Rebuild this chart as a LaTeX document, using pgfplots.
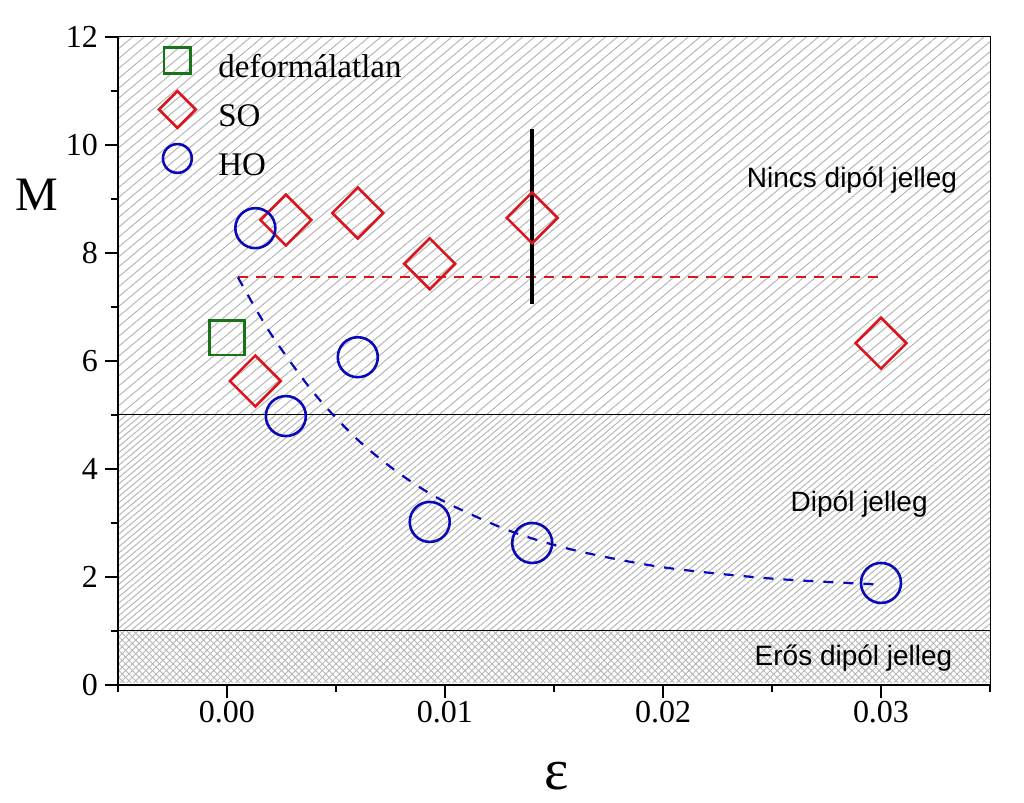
\documentclass[border=0pt]{standalone}
\usepackage{pgfplots}
\pgfplotsset{compat=1.18}
\usepackage{fontspec}
\setmainfont{Liberation Serif}
\newfontfamily\arial{Liberation Sans}
\usetikzlibrary{patterns.meta}
\definecolor{myred}{RGB}{220,20,30}
\definecolor{myblue}{RGB}{10,10,185}
\definecolor{mygreen}{RGB}{25,115,25}
\definecolor{hatch}{RGB}{182,182,182}
\pgfplotsset{limg/.style={legend image code/.code={%
    \pgfpathrectangle{\pgfpoint{-10pt}{-4.5pt}}{\pgfpoint{20pt}{16.5pt}}\pgfusepath{use as bounding box}%
    \draw[##1, mark size=#1] plot coordinates {(0pt,5pt)};}}}
\begin{document}
\begin{tikzpicture}
\begin{axis}[
  name=ax,
  scale only axis, width=436pt, height=324pt,
  xmin=-0.005, xmax=0.035, ymin=0, ymax=12,
  xtick={0,0.01,0.02,0.03},
  minor xtick={-0.005,0.005,0.015,0.025,0.035},
  ytick={0,2,4,6,8,10,12},
  minor ytick={1,3,5,7,9,11},
  scaled x ticks=false,
  xticklabel style={/pgf/number format/fixed,/pgf/number format/precision=2,/pgf/number format/fixed zerofill, yshift=2pt},
  /pgf/number format/assume math mode=true,
  tick align=outside,
  xtick pos=bottom, ytick pos=left,
  major tick length=6.5pt, minor tick length=3.5pt,
  every tick/.style={black, line width=1pt},
  tick label style={font=\fontsize{16}{16}\selectfont},
  axis line style={line width=0.5pt},
  axis on top,
  ylabel={M},
  ylabel style={rotate=-90, at={(rel axis cs:-0.093,0.756)}, anchor=center, font=\fontsize{24}{24}\selectfont},
  xlabel={ε},
  xlabel style={at={(rel axis cs:0.503,-0.14)}, anchor=center, font=\fontsize{29}{29}\selectfont},
  legend cell align=left,
  legend style={at={(rel axis cs:0.0447,0.986)}, anchor=north west, draw=none, fill=none,
    inner sep=0pt, row sep=4.25pt, column sep=10.5pt,
    font=\fontsize{16.5}{16.5}\selectfont,
    nodes={inner sep=0pt, text height=12pt, text depth=4.5pt}},
]
% background zones
\addplot[draw=none, forget plot, pattern={Lines[angle=40,distance=3.8pt,line width=0.5pt]}, pattern color=hatch]
  coordinates {(-0.005,5) (0.035,5) (0.035,12) (-0.005,12)} -- cycle;
\addplot[draw=none, forget plot, pattern={Lines[angle=40,distance=2.4pt,line width=0.5pt]}, pattern color=hatch]
  coordinates {(-0.005,1) (0.035,1) (0.035,5) (-0.005,5)} -- cycle;
\addplot[draw=none, forget plot, pattern={Lines[angle=45,distance=2.4pt,line width=0.45pt]}, pattern color=hatch]
  coordinates {(-0.005,0.05) (0.035,0.05) (0.035,1) (-0.005,1)} -- cycle;
\addplot[draw=none, forget plot, pattern={Lines[angle=-45,distance=2.4pt,line width=0.45pt]}, pattern color=hatch]
  coordinates {(-0.005,0.05) (0.035,0.05) (0.035,1) (-0.005,1)} -- cycle;
\addplot[black, line width=0.5pt, forget plot] coordinates {(-0.005,5) (0.035,5)};
\addplot[black, line width=0.5pt, forget plot] coordinates {(-0.005,1) (0.035,1)};
% zone labels
\node[font=\arial\fontsize{14}{14}\selectfont] at (axis cs:0.02867,9.35) {Nincs dipól jelleg};
\node[font=\arial\fontsize{14}{14}\selectfont] at (axis cs:0.0290,3.35) {Dipól jelleg};
\node[font=\arial\fontsize{14}{14}\selectfont] at (axis cs:0.02874,0.50) {Erős dipól jelleg};
% guide lines
\addplot[myred, line width=1pt, dash pattern=on 5pt off 4pt, forget plot] coordinates {(0.0005,7.55) (0.030,7.55)};
\addplot[myblue, line width=1.1pt, dash pattern=on 5pt off 5pt, smooth, forget plot] coordinates {
 (0.0005,7.55) (0.002,6.51) (0.004,5.40) (0.006,4.54) (0.008,3.89) (0.010,3.39)
 (0.013,2.85) (0.016,2.49) (0.020,2.18) (0.025,1.97) (0.030,1.86)};
\addplot[black, line width=2pt, forget plot] coordinates {(0.014,7.06) (0.014,10.3)};
% data
\addplot[only marks, mygreen, mark=square, mark size=8.7pt, mark options={line width=1.3pt}, limg=6.6pt]
  coordinates {(0.0000,6.43)};
\addlegendentry{deformálatlan}
\addplot[only marks, myred, mark=square, mark size=9pt, mark options={rotate=45, line width=1.3pt}, limg=6.5pt]
  coordinates {(0.0013,5.63) (0.0027,8.61) (0.0060,8.74) (0.0093,7.80) (0.0140,8.65) (0.0300,6.33)};
\addlegendentry{SO}
\addplot[only marks, myblue, mark=o, mark size=10pt, mark options={line width=1.3pt}, limg=7.2pt]
  coordinates {(0.0013,8.46) (0.0027,4.98) (0.0060,6.07) (0.0093,3.02) (0.0140,2.63) (0.0300,1.89)};
\addlegendentry{HO}
\end{axis}
\draw[line width=1.3pt] (ax.north west) -- (ax.south west) -- (ax.south east);
\path ([shift={(-59pt,-59pt)}]ax.south west) rectangle ([shift={(17pt,18.5pt)}]ax.north east);
\end{tikzpicture}
\end{document}
